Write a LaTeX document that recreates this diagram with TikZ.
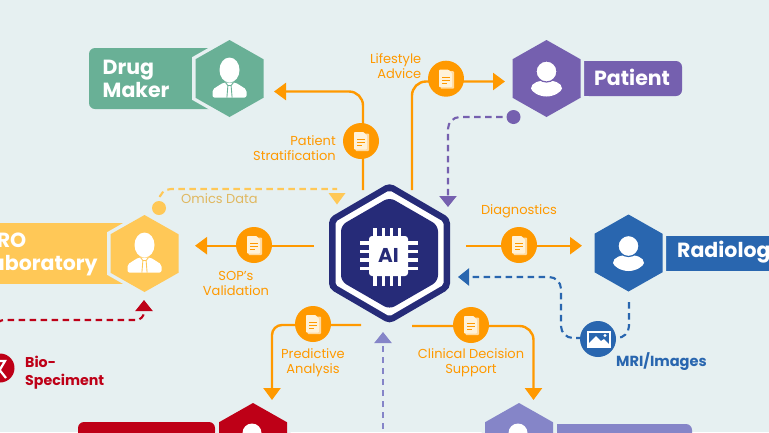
\documentclass[tikz,border=0pt]{standalone}
\usepackage{fontspec}
\setmainfont{Poppins}
\usetikzlibrary{arrows.meta}
\definecolor{bgc}{HTML}{E6F0F1}
\definecolor{orng}{HTML}{FF9900}
\definecolor{grn}{HTML}{69B096}
\definecolor{purp}{HTML}{7560AF}
\definecolor{blu}{HTML}{2966AF}
\definecolor{yel}{HTML}{FFC857}
\definecolor{redd}{HTML}{BE0017}
\definecolor{lav}{HTML}{8585C8}
\definecolor{navy}{HTML}{262B78}
\definecolor{omic}{HTML}{E0B860}
\definecolor{cream}{HTML}{FFF2D9}
\pgfdeclarelayer{edges}
\pgfsetlayers{edges,main}
\tikzset{
  oline/.style={draw=orng,line width=2.4pt,rounded corners=14pt},
  otip/.style={-{Triangle[length=12pt,width=17pt]}},
  dline/.style={draw=#1,line width=2.1pt,dash pattern=on 6.5pt off 4.5pt,rounded corners=12pt},
  dtip/.style={-{Triangle[length=11pt,width=17pt]}},
  docdot/.style={circle,fill=orng,draw=none,minimum size=36pt,inner sep=0pt},
  lab/.style={text=orng,font=\fontsize{13}{15}\selectfont,align=center,inner sep=0pt},
  boxt/.style={text=white,font=\fontsize{20.5}{22}\selectfont\bfseries,inner sep=0pt,align=left},
}
\newcommand{\hexp}[4]{(#1,#2-#4) -- (#1+#3,#2-#4/2) -- (#1+#3,#2+#4/2) -- (#1,#2+#4) -- (#1-#3,#2+#4/2) -- (#1-#3,#2-#4/2) -- cycle}
\newcommand{\hexa}[3]{% cx cy colour
  \fill[bgc] \hexp{#1}{#2}{37.5}{42.5};
  \fill[#3] \hexp{#1}{#2}{34}{38.5};}
\newcommand{\usr}[3]{\begin{scope}[shift={(#1,#2)}]
  \fill[white] (-15.5,10) .. controls (-15.5,4) and (-7,2) .. (0,2) .. controls (7,2) and (15.5,4) .. (15.5,10) .. controls (15,13) and (8,18) .. (0,18) .. controls (-8,18) and (-15,13) .. (-15.5,10) -- cycle;
  \fill[white,draw=#3,line width=1.2pt] (0,-7) circle (10.5);
\end{scope}}
\newcommand{\biz}[3]{\begin{scope}[shift={(#1,#2)}]
  \fill[white,rounded corners=2pt] (-17,19) -- (-17,11) -- (-6,4) -- (6,4) -- (17,11) -- (17,19) -- cycle;
  \draw[#3,line width=.9pt] (-4,4) -- (-1.6,7) -- (-2.6,19) (4,4) -- (1.6,7) -- (2.6,19) (-1.6,7) -- (1.6,7);
  \fill[white] (0,-8.5) ellipse (10 and 12.5);
\end{scope}}
\newcommand{\docic}[2]{\begin{scope}[shift={(#1,#2)}]
  \fill[cream,opacity=.75,rounded corners=.8pt] (-5.5,-7.5) rectangle (8,10);
  \fill[cream,rounded corners=.8pt] (-7,-9) -- (2.5,-9) -- (6,-5.5) -- (6,8.5) -- (-7,8.5) -- cycle;
  \draw[orng,line width=.9pt] (-4,-1.5) -- (3.5,-1.5) (-4,1.5) -- (3.5,1.5) (-4,4.5) -- (0.5,4.5);
\end{scope}}
\begin{document}
\begin{tikzpicture}[x=1pt,y=-1pt]
\useasboundingbox (0,0) rectangle (769,432);
\clip (0,0) rectangle (769,432);

% end points of the connectors
\coordinate (psA) at (363,190);
\coordinate (psB) at (363,91.5);
\coordinate (psC) at (274,91.5);
\coordinate (laA) at (412,190);
\coordinate (laB) at (412,81.5);
\coordinate (laC) at (505,81.5);
\coordinate (ptD) at (513.5,117);
\coordinate (ptE) at (448,117);
\coordinate (ptF) at (448,207);
\coordinate (omA) at (159,208);
\coordinate (omB) at (159,189);
\coordinate (omC) at (337,189);
\coordinate (omD) at (337,205);
\coordinate (soA) at (314,245.7);
\coordinate (soB) at (195,245.7);
\coordinate (dgA) at (466,245.7);
\coordinate (dgB) at (582,245.7);
\coordinate (paA) at (361,325);
\coordinate (paB) at (272,325);
\coordinate (paC) at (272,400);
\coordinate (cdA) at (412,326);
\coordinate (cdB) at (533.5,326);
\coordinate (cdC) at (533.5,400);
\coordinate (lvA) at (383,440);
\coordinate (lvB) at (383,332);
\coordinate (mrA) at (629,302);
\coordinate (mrB) at (629,338);
\coordinate (mrC) at (561,338);
\coordinate (mrD) at (561,277);
\coordinate (mrE) at (458,277);
\coordinate (rdZ) at (-4,345);
\coordinate (rdA) at (-4,320);
\coordinate (rdB) at (144,320);
\coordinate (rdC) at (144,300);

\begin{pgfonlayer}{edges}
\fill[bgc] (0,0) rectangle (769,432);
\draw[oline,otip] (psA) -- (psB) -- (psC);
\draw[oline,otip] (laA) -- (laB) -- (laC);
\draw[dline=purp,dtip,purp] (ptD) -- (ptE) -- (ptF);
\draw[dline=yel,yel] (omA) -- (omB) -- (omC);
\fill[yel] (328.5,193) -- (345.5,193) -- (337,204.5) -- cycle;
\draw[oline,otip] (soA) -- (soB);
\draw[oline,otip] (dgA) -- (dgB);
\draw[oline,otip,rounded corners=10pt] (paA) -- (paB) -- (paC);
\draw[oline,otip] (cdA) -- (cdB) -- (cdC);
\draw[dline=lav,dtip,lav] (lvA) -- (lvB);
\draw[dline=blu,dtip,blu] (mrA) -- (mrB) -- (mrC) -- (mrD) -- (mrE);
\draw[dline=redd,dtip,redd,rounded corners=8pt] (rdZ) -- (rdA) -- (rdB) -- (rdC);
\end{pgfonlayer}

% Drug Maker
\fill[grn,rounded corners=6pt] (215,48) -- (89,48) -- (89,109) -- (215,109) -- cycle;
\hexa{229.5}{78.5}{grn}
\biz{229.5}{78.5}{grn}
\node[boxt,anchor=west] (drug) at (102.5,79) {Drug\\[1pt]Maker};

% Patient
\fill[purp,rounded corners=6pt] (583,61) -- (682,61) -- (682,96) -- (583,96) -- cycle;
\fill[purp] (583,61) rectangle (590,96);
\hexa{546.5}{78.5}{purp}
\usr{546.5}{78.5}{purp}
\node[boxt,anchor=west] (patient) at (594,77.5) {Patient};
\fill[purp] (ptD) circle (7);

% Radiologist
\fill[blu] (666,236) rectangle (780,271);
\hexa{628.5}{253}{blu}
\usr{628.5}{253}{blu}
\node[boxt,anchor=west] (radio) at (677,252.5) {Radiologist};

% CRO Laboratory
\fill[yel] (-10,223) rectangle (130,284);
\hexa{144.5}{253.5}{yel}
\biz{144.5}{253.5}{yel}
\node[boxt,anchor=west] (cro) at (-19,254) {CRO\\[1pt]Laboratory};
\fill[yel] (omA) circle (7);

% red actor
\fill[redd,rounded corners=6pt] (215,422) -- (78,422) -- (78,470) -- (215,470) -- cycle;
\hexa{253}{441.5}{redd}
\fill[white] (252,433) circle (9.5);

% lavender actor
\fill[lav,rounded corners=6pt] (557,424) -- (692,424) -- (692,470) -- (557,470) -- cycle;
\fill[lav] (557,424) rectangle (565,470);
\hexa{519}{441.5}{lav}
\fill[white] (518,433) circle (9.5);

% AI hexagon
\fill[navy,rounded corners=5pt] \hexp{389.5}{253.3}{60.5}{70.5};
\fill[white,rounded corners=2pt] \hexp{389.5}{253.3}{54}{63};
\fill[navy,rounded corners=6pt] \hexp{389.5}{253.3}{48.5}{56};
\foreach \p in {375,383.2,391.4,399.6}{
  \fill[white] (\p-1.7,227.5) rectangle (\p+1.7,286);
}
\foreach \p in {243,251.2,259.8,268.2}{
  \fill[white] (360,\p-1.7) rectangle (417.5,\p+1.7);
}
\fill[white,rounded corners=3pt] (369,236) rectangle (408,276);
\node[inner sep=0pt,text=navy,font=\fontsize{20}{20}\selectfont\bfseries] (ai) at (388.5,255.5) {AI};

% document circles
\node[docdot] (n1) at (361,141) {};
\node[docdot] (n2) at (446,78.7) {};
\node[docdot] (n3) at (254,245) {};
\node[docdot] (n4) at (519,245) {};
\node[docdot] (n5) at (313,324) {};
\node[docdot] (n6) at (471,325) {};
\docic{361}{141}
\docic{446}{78.7}
\docic{254}{245}
\docic{519}{245}
\docic{313}{324}
\docic{471}{325}

% MRI circle
\node[circle,fill=blu,minimum size=36pt,inner sep=0pt] (mri) at (598,339) {};
\fill[white] (587,331) rectangle (611,348);
\fill[blu] (589,333) rectangle (609,346);
\fill[white] (589,346) -- (589,343) -- (596,336) -- (601,341) -- (604,339) -- (609,344) -- (609,346) -- cycle;
\fill[white] (605,335.5) circle (1.6);

% Bio-specimen
\node[circle,fill=redd,minimum size=29pt,inner sep=0pt] (bio) at (0,368) {};
\draw[white,line width=2.2pt] (-3,361) -- (5,361) -- (-5,378) (-2,368) -- (6,378);
\node[anchor=west,inner sep=0pt,text=redd,align=left,font=\fontsize{14.2}{18}\selectfont\bfseries] (biot) at (25,372.5) {Bio-\\Speciment};
\node[anchor=west,inner sep=0pt,text=blu,font=\fontsize{14.6}{16}\selectfont\bfseries] (mrit) at (616,361.7) {MRI/Images};

% labels
\node[lab,anchor=east,align=right] (t1) at (336,148.5) {Patient\\Stratification};
\node[lab,anchor=east,align=right] (t2) at (421.5,66.5) {Lifestyle\\Advice};
\node[lab,text=omic,anchor=west] (t3) at (181,198.5) {Omics Data};
\node[lab] (t4) at (519,211) {Diagnostics};
\node[lab] (t5) at (236,283.5) {SOP’s\\Validation};
\node[lab] (t6) at (313,363.2) {Predictive\\Analysis};
\node[lab] (t7) at (471,363.2) {Clinical Decision\\Support};
\end{tikzpicture}
\end{document}
